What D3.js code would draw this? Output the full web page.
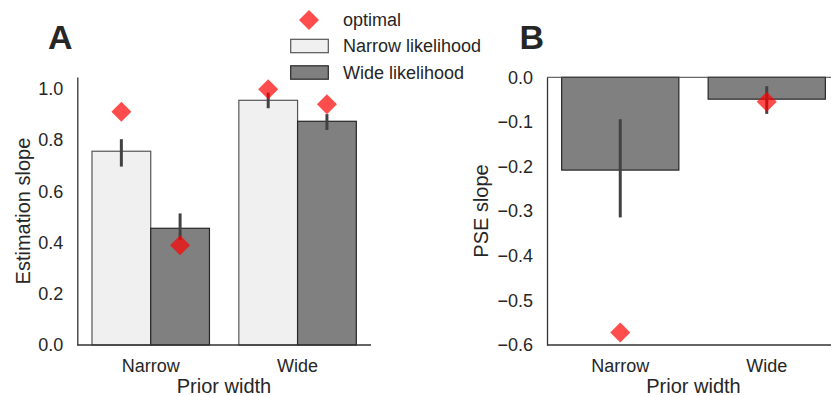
<!DOCTYPE html>
<html>
<head>
<meta charset="utf-8">
<script src="https://cdn.jsdelivr.net/npm/d3@7/dist/d3.min.js"></script>
<style>
  html, body { margin: 0; padding: 0; background: #fff; }
  svg { display: block; font-family: "Liberation Sans", Arial, Helvetica, sans-serif; }
</style>
</head>
<body>
<svg id="chart" width="831" height="396"></svg>
<script>
// ---------- data ----------
const categories = ["Narrow", "Wide"];
const hues = ["Narrow likelihood", "Wide likelihood"];
const hueColors = ["#f0f0f0", "#808080"];
const hueEdges = ["#555555", "#262626"];

// Panel A: estimation slope (per prior width, per likelihood)
const estNarrowLik = [0.757, 0.956];
const estNarrowLikLo = [0.697, 0.925];
const estNarrowLikHi = [0.804, 0.986];
const estWideLik = [0.456, 0.874];
const estWideLikLo = [0.410, 0.840];
const estWideLikHi = [0.514, 0.902];
const optNarrowLik = [0.911, 0.999];
const optWideLik = [0.390, 0.941];
const yTicksA = [0.0, 0.2, 0.4, 0.6, 0.8, 1.0];

// Panel B: PSE slope
const pse = [-0.208, -0.049];
const pseLo = [-0.314, -0.082];
const pseHi = [-0.094, -0.020];
const pseOpt = [-0.572, -0.055];
const yTicksB = [0.0, -0.1, -0.2, -0.3, -0.4, -0.5, -0.6];

// ---------- drawing ----------
const svg = d3.select("#chart");
const fmt = d3.format(".1f");
const TICK_FS = 18, LABEL_FS = 20;
const optColor = "rgba(255,0,0,0.7)";
const errColor = "#424242";
const spineColor = "#333333";
const diamond = d3.symbol().type(d3.symbolSquare).size(200);

function styleAxis(g) {
  g.select(".domain").attr("stroke", spineColor).attr("stroke-width", 1.3);
  g.selectAll(".tick line").remove();
  g.selectAll(".tick text").attr("fill", "#262626").style("font-size", TICK_FS + "px")
    .style("font-family", '"Liberation Sans", Arial, sans-serif');
}

// ----- Panel A -----
const xA = d3.scaleBand().domain(categories).range([77.3, 371]).paddingInner(0.2).paddingOuter(0.1);
const hA = d3.scaleBand().domain(hues).range([0, xA.bandwidth()]);
const yA = d3.scaleLinear().domain([0, 1.047]).range([345, 77]);

const rowsA = [];
categories.forEach((c, i) => {
  rowsA.push({cat: c, hue: hues[0], v: estNarrowLik[i], lo: estNarrowLikLo[i], hi: estNarrowLikHi[i], opt: optNarrowLik[i], k: 0});
  rowsA.push({cat: c, hue: hues[1], v: estWideLik[i], lo: estWideLikLo[i], hi: estWideLikHi[i], opt: optWideLik[i], k: 1});
});

const gA = svg.append("g");
gA.selectAll("rect.bar").data(rowsA).join("rect")
  .attr("class", "bar")
  .attr("x", d => xA(d.cat) + hA(d.hue))
  .attr("width", hA.bandwidth())
  .attr("y", d => yA(d.v))
  .attr("height", d => yA(0) - yA(d.v))
  .attr("fill", d => hueColors[d.k])
  .attr("stroke", d => hueEdges[d.k])
  .attr("stroke-width", 1.2);

gA.selectAll("line.err").data(rowsA).join("line")
  .attr("x1", d => xA(d.cat) + hA(d.hue) + hA.bandwidth() / 2)
  .attr("x2", d => xA(d.cat) + hA(d.hue) + hA.bandwidth() / 2)
  .attr("y1", d => yA(d.lo)).attr("y2", d => yA(d.hi))
  .attr("stroke", errColor).attr("stroke-width", 3);

gA.selectAll("path.opt").data(rowsA).join("path")
  .attr("d", diamond)
  .attr("transform", d => `translate(${xA(d.cat) + hA(d.hue) + hA.bandwidth() / 2},${yA(d.opt)}) rotate(45)`)
  .attr("fill", optColor);

gA.append("g").attr("transform", `translate(77.3,0)`)
  .call(d3.axisLeft(yA).tickValues(yTicksA).tickFormat(fmt).tickSize(0).tickPadding(14))
  .call(styleAxis);
gA.append("g").attr("transform", `translate(0,345)`)
  .call(d3.axisBottom(xA).tickSize(0).tickPadding(14))
  .call(g => g.select(".domain").attr("d", "M77.3,0H371"))
  .call(styleAxis);

svg.append("text").attr("transform", "translate(29.5,211) rotate(-90)")
  .attr("text-anchor", "middle").style("font-size", LABEL_FS + "px").attr("fill", "#262626")
  .text("Estimation slope");
svg.append("text").attr("x", 224).attr("y", 393)
  .attr("text-anchor", "middle").style("font-size", LABEL_FS + "px").attr("fill", "#262626")
  .text("Prior width");
svg.append("text").attr("x", 48).attr("y", 49)
  .style("font-size", "34px").style("font-weight", "bold").attr("fill", "#262626").text("A");

// Legend
const lg = svg.append("g");
lg.append("path").attr("d", diamond).attr("transform", "translate(309,20) rotate(45)").attr("fill", optColor);
lg.append("text").attr("x", 343).attr("y", 20).attr("dy", "0.35em").style("font-size", TICK_FS + "px").attr("fill", "#262626").text("optimal");
hues.forEach((h, i) => {
  const cy = 46 + i * 26.5;
  lg.append("rect").attr("x", 290.7).attr("y", cy - 6.7).attr("width", 37.6).attr("height", 13.4)
    .attr("fill", hueColors[i]).attr("stroke", hueEdges[i]).attr("stroke-width", 1.2);
  lg.append("text").attr("x", 343).attr("y", cy).attr("dy", "0.35em").style("font-size", TICK_FS + "px").attr("fill", "#262626").text(h);
});

// ----- Panel B -----
const xB = d3.scaleBand().domain(categories).range([547, 840]).paddingInner(0.2).paddingOuter(0.1);
const yB = d3.scaleLinear().domain([-0.6, 0]).range([345, 77.3]);

const rowsB = categories.map((c, i) => ({cat: c, v: pse[i], lo: pseLo[i], hi: pseHi[i], opt: pseOpt[i]}));
const gB = svg.append("g");

gB.selectAll("rect.bar").data(rowsB).join("rect")
  .attr("x", d => xB(d.cat))
  .attr("width", xB.bandwidth())
  .attr("y", d => yB(0))
  .attr("height", d => yB(d.v) - yB(0))
  .attr("fill", hueColors[1])
  .attr("stroke", hueEdges[1])
  .attr("stroke-width", 1.2);

gB.append("line").attr("x1", 547).attr("x2", 840).attr("y1", yB(0)).attr("y2", yB(0))
  .attr("stroke", "#444").attr("stroke-width", 1);

gB.selectAll("line.err").data(rowsB).join("line")
  .attr("x1", d => xB(d.cat) + xB.bandwidth() / 2)
  .attr("x2", d => xB(d.cat) + xB.bandwidth() / 2)
  .attr("y1", d => yB(d.lo)).attr("y2", d => yB(d.hi))
  .attr("stroke", errColor).attr("stroke-width", 3);

gB.selectAll("path.opt").data(rowsB).join("path")
  .attr("d", diamond)
  .attr("transform", d => `translate(${xB(d.cat) + xB.bandwidth() / 2},${yB(d.opt)}) rotate(45)`)
  .attr("fill", optColor);

gB.append("g").attr("transform", `translate(547,0)`)
  .call(d3.axisLeft(yB).tickValues(yTicksB).tickFormat(fmt).tickSize(0).tickPadding(14))
  .call(styleAxis);
gB.append("g").attr("transform", `translate(0,345)`)
  .call(d3.axisBottom(xB).tickSize(0).tickPadding(14))
  .call(g => g.select(".domain").attr("d", "M547,0H840"))
  .call(styleAxis);

svg.append("text").attr("transform", "translate(488,211) rotate(-90)")
  .attr("text-anchor", "middle").style("font-size", LABEL_FS + "px").attr("fill", "#262626")
  .text("PSE slope");
svg.append("text").attr("x", 693.5).attr("y", 393)
  .attr("text-anchor", "middle").style("font-size", LABEL_FS + "px").attr("fill", "#262626")
  .text("Prior width");
svg.append("text").attr("x", 519.5).attr("y", 49)
  .style("font-size", "34px").style("font-weight", "bold").attr("fill", "#262626").text("B");
</script>
</body>
</html>
